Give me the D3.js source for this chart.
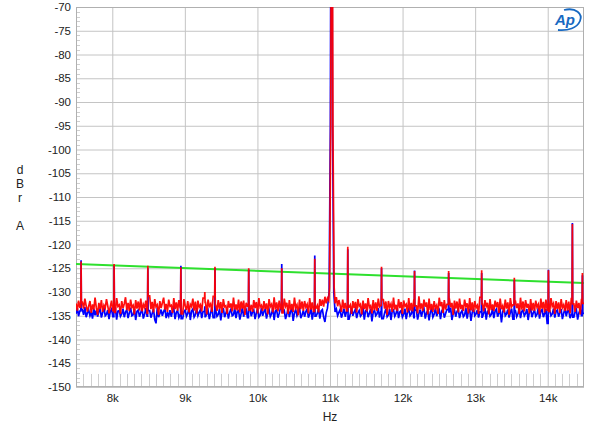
<!DOCTYPE html>
<html><head><meta charset="utf-8">
<script src="https://cdn.jsdelivr.net/npm/d3@7"></script>
<style>body{margin:0;background:#fff} text{font-family: Arial, "Liberation Sans", sans-serif}</style>
</head><body><svg id="c" width="600" height="432"></svg>
<script>
// ---- data ----
const noiseStartHz = 7500, noiseStepHz = 17.5;
const redNoise = [
-132.4,-133.9,-131.8,-133.2,-134.6,-132.1,-133.5,-131.4,-132.9,-134.1,-133.0,-131.9,-134.4,-132.6,-133.7,-131.2,-133.3,-134.8,-132.3,-133.6,
-131.7,-134.2,-132.8,-133.4,-131.5,-132.9,-134.5,-133.1,-131.8,-133.9,-132.2,-134.3,-131.3,-133.0,-132.7,-134.6,-131.9,-133.4,-132.5,-131.1,
-133.8,-132.3,-134.0,-131.6,-133.2,-132.8,-134.7,-131.7,-133.5,-132.0,-133.9,-131.4,-134.1,-132.6,-133.3,-131.8,-134.5,-132.9,-130.8,-133.6,
-132.1,-134.3,-131.5,-133.1,-132.7,-134.8,-131.9,-133.4,-132.3,-131.2,-133.7,-132.5,-134.2,-131.6,-133.0,-132.8,-134.4,-131.3,-133.6,-132.2,
-134.0,-131.7,-133.3,-132.4,-134.6,-131.5,-132.9,-133.8,-131.9,-134.3,-132.6,-133.1,-131.4,-133.9,-132.0,-134.5,-131.8,-133.2,-132.7,-134.1,
-131.3,-133.5,-132.2,-134.7,-131.6,-133.0,-132.5,-134.2,-130.9,-133.4,-132.8,-134.0,-131.7,-133.6,-132.1,-134.4,-131.5,-133.1,-132.9,-134.6,
-131.9,-133.3,-132.4,-134.1,-131.2,-133.7,-132.6,-133.9,-131.6,-134.3,-132.0,-133.5,-131.8,-134.8,-132.3,-133.0,-131.4,-133.8,-132.7,-134.2,
-131.7,-133.4,-132.1,-134.5,-131.3,-133.2,-132.8,-134.0,-131.9,-133.6,-132.4,-134.7,-131.5,-133.1,-132.6,-134.3,-131.1,-133.7,-132.2,-134.1,
-131.8,-133.5,-132.9,-134.4,-131.4,-133.0,-132.3,-134.6,-131.7,-133.8,-132.5,-134.2,-131.2,-133.3,-132.7,-134.9,-131.6,-133.6,-132.0,-134.0,
-131.9,-133.2,-132.6,-134.5,-131.3,-133.7,-132.2,-134.1,-131.8,-133.4,-132.8,-134.3,-131.5,-132.9,-131.6,-133.1,-131.0,-132.4,-131.3,-131.8,
-130.9,-131.2,-130.8,-131.5,-132.4,-131.1,-133.0,-131.7,-132.8,-134.2,-131.6,-133.5,-132.3,-134.0,-131.4,-133.2,-132.7,-134.6,-131.9,-133.4,
-132.1,-134.3,-131.5,-133.0,-132.6,-134.7,-131.8,-133.6,-132.4,-134.1,-131.3,-133.3,-132.9,-134.5,-131.7,-133.8,-132.2,-134.0,-131.4,-133.1,
-132.8,-134.4,-131.6,-133.5,-132.0,-134.8,-131.9,-133.2,-132.5,-134.2,-131.2,-133.7,-132.7,-134.0,-131.5,-133.4,-132.1,-134.6,-131.8,-133.0,
-132.6,-134.3,-131.3,-133.9,-132.3,-134.1,-131.7,-133.3,-132.9,-134.5,-130.9,-133.6,-132.4,-134.0,-131.6,-133.1,-132.2,-134.7,-131.4,-133.8,
-132.5,-134.2,-131.9,-133.4,-132.8,-134.6,-131.2,-133.0,-132.1,-134.4,-131.7,-133.7,-132.6,-134.1,-131.5,-133.2,-132.3,-134.8,-131.8,-133.5,
-132.0,-134.3,-131.4,-133.6,-132.7,-134.0,-131.6,-133.1,-132.4,-134.5,-131.3,-133.9,-132.2,-134.2,-131.9,-133.3,-132.8,-134.6,-131.1,-133.4,
-132.5,-134.1,-131.7,-133.0,-132.3,-134.7,-131.5,-133.8,-132.6,-134.0,-131.8,-133.2,-132.1,-134.4,-131.4,-133.6,-132.9,-134.3,-131.6,-133.5,
-132.2,-134.8,-131.3,-133.1,-132.7,-134.2,-131.9,-133.4,-132.4,-134.6,-131.2,-133.7,-132.0,-134.1,-131.7,-133.3,-132.5,-134.5,-131.5,-133.9,
-132.3,-134.0,-131.8,-133.2,-132.6,-134.7,-131.4,-133.5,-132.1,-134.3,-131.6,-133.8,-132.8,-134.1,-131.3,-133.0,-132.4,-134.6,-131.9,-133.6,
-132.2,-134.4,-131.5,-133.3,-132.7,-134.0,-131.7,-133.9,-132.0,-134.5,-131.4,-133.1,-132.5,-134.2,-131.8,-133.4,-132.3,-134.7,-131.6,-133.2,
-132.4];
const blueNoise = [
-134.6,-133.4,-135.1,-134.0,-135.5,-133.7,-134.8,-133.2,-135.3,-134.4,-133.8,-135.0,-134.2,-135.6,-133.5,-134.9,-133.9,-135.2,-134.1,-133.6,
-135.4,-134.3,-133.3,-135.0,-134.7,-133.8,-135.7,-134.1,-133.6,-135.2,-134.5,-133.4,-135.8,-134.0,-133.9,-135.1,-134.6,-133.5,-135.3,-134.2,
-133.7,-135.5,-134.4,-133.3,-135.0,-134.8,-133.6,-135.9,-134.1,-133.8,-135.2,-134.3,-133.5,-135.6,-134.7,-133.4,-135.1,-134.0,-133.9,-135.4,
-134.5,-133.6,-135.8,-136.6,-133.3,-135.3,-134.6,-133.7,-135.0,-134.1,-133.5,-135.5,-134.4,-135.1,-133.8,-135.2,-134.0,-133.4,-135.7,-134.3,
-133.9,-135.4,-134.7,-133.5,-135.6,-134.2,-133.8,-135.1,-134.5,-133.3,-135.9,-134.0,-133.6,-135.3,-134.8,-133.4,-135.0,-134.3,-133.7,-135.5,
-134.1,-133.5,-135.2,-134.6,-133.9,-135.7,-134.4,-133.3,-135.4,-134.0,-133.8,-135.1,-134.7,-133.6,-136.0,-134.2,-133.4,-135.3,-134.5,-133.7,
-135.6,-134.3,-133.5,-135.0,-134.8,-133.4,-135.5,-134.1,-133.9,-135.8,-134.6,-133.3,-135.2,-134.0,-133.7,-135.4,-134.5,-133.6,-135.1,-134.2,
-133.8,-135.7,-134.4,-133.5,-135.3,-134.9,-133.4,-135.0,-134.1,-133.6,-135.6,-134.3,-133.7,-135.2,-134.6,-133.3,-135.9,-134.0,-133.8,-135.4,
-134.5,-133.4,-135.1,-134.2,-133.9,-135.7,-134.7,-133.5,-135.3,-134.0,-133.6,-136.1,-134.4,-133.7,-135.0,-134.3,-133.3,-135.5,-134.8,-133.9,
-135.2,-134.1,-133.6,-135.4,-134.6,-133.4,-135.8,-134.2,-133.8,-135.1,-134.5,-133.5,-135.6,-134.0,-133.7,-135.3,-136.3,-134.4,-133.4,-133.0,
-132.8,-133.1,-132.9,-133.4,-134.2,-133.6,-135.0,-134.3,-133.7,-135.4,-134.5,-133.5,-135.2,-134.1,-133.8,-135.7,-134.6,-133.4,-135.0,-134.2,
-133.6,-135.5,-134.4,-133.9,-135.1,-134.7,-133.3,-135.8,-134.0,-133.7,-135.3,-134.5,-133.5,-136.2,-134.3,-133.8,-135.0,-134.6,-133.4,-135.4,
-134.1,-133.7,-135.6,-134.4,-133.5,-135.2,-134.8,-133.6,-135.9,-134.0,-133.8,-135.1,-134.5,-133.4,-135.5,-134.2,-133.9,-135.3,-134.7,-133.5,
-135.7,-134.3,-133.6,-135.0,-134.6,-133.3,-135.4,-134.1,-133.8,-135.8,-134.5,-133.7,-135.2,-134.0,-133.5,-135.6,-134.4,-133.9,-136.0,-134.2,
-133.6,-135.3,-134.7,-133.4,-135.1,-134.3,-133.8,-135.7,-134.0,-133.5,-135.4,-134.6,-133.7,-135.0,-134.2,-133.3,-135.9,-134.5,-133.8,-135.2,
-134.1,-133.6,-135.5,-134.4,-133.9,-135.2,-134.8,-133.4,-135.6,-134.0,-133.7,-136.1,-134.3,-133.5,-135.0,-134.6,-133.8,-135.4,-134.2,-133.6,
-135.3,-134.5,-133.4,-135.8,-134.1,-133.9,-135.1,-134.7,-133.5,-135.5,-134.0,-133.6,-135.2,-134.4,-133.8,-136.4,-134.2,-133.3,-135.0,-134.6,
-133.7,-135.4,-134.3,-133.5,-135.7,-134.0,-133.9,-135.2,-134.6,-133.4,-135.5,-134.1,-133.8,-135.0,-134.5,-133.6,-135.9,-134.2,-133.5,-135.3,
-134.4,-133.8,-135.1,-134.7,-133.4,-135.6,-134.0,-133.7,-135.3,-134.5,-133.6,-136.6,-134.2,-133.9,-135.0,-134.6,-133.5,-135.4,-134.1,-133.8,
-135.2,-134.3,-133.6,-135.7,-134.5,-133.4,-135.1,-134.0,-133.9,-135.5,-134.7,-133.5,-135.3,-134.2,-133.7,-135.8,-134.4,-133.6,-135.0,-134.1,
-134.5];
const spikeFreqs = [7570, 8025, 8490, 8945, 9275, 9415, 9880, 10335, 10790, 11245, 11710, 12165, 12635, 13090, 13540, 14010, 14340, 14478];
const redSpikes  = [-123.6,-124.1,-124.5,-124.8,-130.0,-124.7,-125.0,-125.0,-123.0,-120.5,-124.7,-125.6,-125.6,-125.4,-127.0,-125.4,-115.7,-126.0];
const blueSpikes = [-123.3,-124.5,-125.0,-124.5,-133.0,-125.0,-125.3,-124.1,-122.3,-121.0,-125.0,-125.5,-126.0,-126.0,-127.5,-125.3,-115.5,-126.5];
const redMainFreqs  = [10993, 11010, 11025, 11040, 11057];
const redMainLevels = [-129, -95, 0, -95, -129];
const blueMainFreqs  = [10988, 11005, 11020, 11035, 11052];
const blueMainLevels = [-130, -95, 0, -95, -130];
const greenFreqs  = [7500, 14500];
const greenLevels = [-124.1, -128.1];
const yTicks = [-70,-75,-80,-85,-90,-95,-100,-105,-110,-115,-120,-125,-130,-135,-140,-145,-150];
const xTicks = [8000, 9000, 10000, 11000, 12000, 13000, 14000];
const xTickLabels = ["8k","9k","10k","11k","12k","13k","14k"];
const yLabelLetters = ["d","B","r","","A"];

// ---- layout ----
const L = 76, R = 584, T = 7, B = 387;
const svg = d3.select("#c");
const x = d3.scaleLinear().domain([7500, 14500]).range([L, R]);
const y = d3.scaleLinear().domain([-150, -70]).range([B, T]);

svg.append("rect").attr("x",0).attr("y",0).attr("width",600).attr("height",432).attr("fill","#fff");
svg.append("clipPath").attr("id","clip").append("rect").attr("x",L).attr("y",T).attr("width",R-L).attr("height",B-T);

const gridColor = "#c4c4c4";
const minorX = d3.range(7600, 14500, 100).filter(f => f % 1000 !== 0);
svg.append("g").selectAll("line").data(minorX).join("line")
  .attr("x1", d=>Math.round(x(d))+0.5).attr("x2", d=>Math.round(x(d))+0.5)
  .attr("y1", B).attr("y2", B-13).attr("stroke", "#cfcfcf").attr("stroke-width",1);
const minorY = d3.range(-149, -70, 1).filter(v => v % 5 !== 0);
svg.append("g").selectAll("line").data(minorY).join("line")
  .attr("x1", L).attr("x2", L+4)
  .attr("y1", d=>Math.round(y(d))+0.5).attr("y2", d=>Math.round(y(d))+0.5)
  .attr("stroke", "#cfcfcf").attr("stroke-width",1);

const yAxis = d3.axisLeft(y).tickValues(yTicks).tickSize(-(R-L)).tickFormat(d=>d);
const gy = svg.append("g").attr("transform",`translate(${L},0)`).call(yAxis);
gy.select(".domain").remove();
gy.selectAll("line").attr("stroke", gridColor);
gy.selectAll("text").attr("x",-5).attr("font-size",11.5).attr("fill","#222");

const xAxis = d3.axisBottom(x).tickValues(xTicks).tickSize(-(B-T)).tickFormat((d,i)=>xTickLabels[i]);
const gx = svg.append("g").attr("transform",`translate(0,${B})`).call(xAxis);
gx.select(".domain").remove();
gx.selectAll("line").attr("stroke", gridColor);
gx.selectAll("text").attr("y",7).attr("font-size",11.5).attr("fill","#222");

svg.append("rect").attr("x",L+0.5).attr("y",T+0.5).attr("width",R-L-1).attr("height",B-T-1)
  .attr("fill","none").attr("stroke","#b0b0b0");

function nearestNoise(noise, f) {
  const i = Math.max(0, Math.min(noise.length-1, Math.round((f-noiseStartHz)/noiseStepHz)));
  return noise[i];
}
function build(noise, sLev, mF, mL) {
  let pts = noise.map((v,i)=>({f: noiseStartHz + i*noiseStepHz, v}));
  pts = pts.filter(p => !spikeFreqs.some(f=>Math.abs(p.f-f) < 9) && !(p.f >= mF[0]-10 && p.f <= mF[mF.length-1]+10));
  spikeFreqs.forEach((f,i)=>{
    pts.push({f:f-4, v:nearestNoise(noise, f-17.5)}, {f, v:sLev[i]}, {f:f+4, v:nearestNoise(noise, f+17.5)});
  });
  mF.forEach((f,i)=>pts.push({f, v:mL[i]}));
  return pts.sort((a,b)=>a.f-b.f);
}
const bluePts = build(blueNoise, blueSpikes, blueMainFreqs, blueMainLevels);
const redPts  = build(redNoise, redSpikes, redMainFreqs, redMainLevels);
const line = d3.line().x(d=>x(d.f)).y(d=>y(d.v));
const plot = svg.append("g").attr("clip-path","url(#clip)");
plot.append("path").datum(greenFreqs.map((f,i)=>({f, v:greenLevels[i]})))
  .attr("d", line).attr("fill","none").attr("stroke","#2ee02e").attr("stroke-width",2);
plot.append("path").datum(bluePts).attr("d", line).attr("fill","none").attr("stroke","#0000ff").attr("stroke-width",1.7);
plot.append("path").datum(redPts).attr("d", line).attr("fill","none").attr("stroke","#ff0000").attr("stroke-width",1.7).attr("stroke-opacity",0.95);

svg.append("g").selectAll("text").data(yLabelLetters).join("text")
  .attr("x",20).attr("y",(d,i)=>174 + i*14).attr("text-anchor","middle")
  .attr("font-size",12).attr("fill","#222").text(d=>d);
svg.append("text").attr("x",330).attr("y",421).attr("text-anchor","middle")
  .attr("font-size",12).attr("fill","#222").text("Hz");

const logo = svg.append("g").attr("transform","translate(552,8)");
logo.append("text").attr("x",3).attr("y",17).attr("font-size",15).attr("font-style","italic")
  .attr("font-weight","bold").attr("fill","#1769c2").text("Ap");
logo.append("path").attr("d","M12,2 C24,-1 31,6 28,13 C25,20 16,23 6,22")
  .attr("fill","none").attr("stroke","#1769c2").attr("stroke-width",1.8);
</script></body></html>
